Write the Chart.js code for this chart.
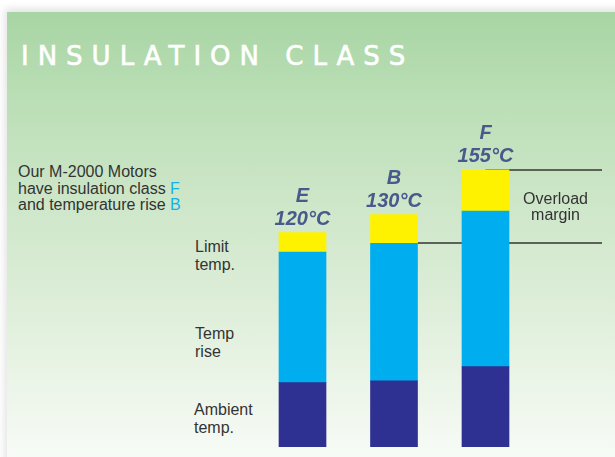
<!DOCTYPE html>
<html>
<head>
<meta charset="utf-8">
<script src="https://cdn.jsdelivr.net/npm/chart.js@4/dist/chart.umd.min.js"></script>
<style>
  html, body { margin: 0; padding: 0; background: #fff; }
  body { width: 615px; height: 457px; position: relative; overflow: hidden; font-family: "Liberation Sans", Arial, sans-serif; }
  .panel {
    position: absolute; left: 7px; top: 12px; width: 640px; height: 470px;
    background: linear-gradient(to bottom, #a8d5a4 0%, #bcdfb7 20%, #cde6c8 40%, #dcedd7 60%, #ecf5e9 80%, #fbfdfb 100%);
    box-shadow: -2px -3px 8px rgba(0,0,0,0.12);
  }
  .title {
    position: absolute; left: 21px; top: 41px; color: #fff;
    font-family: "DejaVu Sans", sans-serif; font-size: 26px; letter-spacing: 9px; white-space: nowrap;
    -webkit-text-stroke: 0.6px #fff;
  }
  .note { position: absolute; color: #333; font-size: 16px; line-height: 16.5px; white-space: nowrap; }
  .hl { color: #14b0e8; }
  #wrap { position: absolute; left: 0; top: 0; width: 615px; height: 457px; }
</style>
</head>
<body>
<div class="panel"></div>
<div class="title">INSULATION CLASS</div>
<div class="note" style="left:18px; top:164px;">Our M-2000 Motors<br>have insulation class <span class="hl">F</span><br>and temperature rise <span class="hl">B</span></div>
<div class="note" style="left:195px; top:238px; line-height:17.5px;">Limit<br>temp.</div>
<div class="note" style="left:195px; top:325px; line-height:17.5px;">Temp<br>rise</div>
<div class="note" style="left:194px; top:401px; line-height:17.5px;">Ambient<br>temp.</div>
<div id="wrap"><canvas id="c" width="615" height="457"></canvas></div>
<script>
// Insulation classes and their temperature build-up (°C)
const classes = ["E", "B", "F"];
const classLimits = ["120°C", "130°C", "155°C"];
const ambientTemp = [36, 37, 45];
const tempRise = [73, 77, 87];
const limitMargin = [11, 16, 23];

// Reference levels for the overload margin: rise of class B and limit of class F
const marginLow = ambientTemp[1] + tempRise[1];
const marginHigh = ambientTemp[2] + tempRise[2] + limitMargin[2];

const annotations = {
  id: "annotations",
  beforeDatasetsDraw(chart) {
    const ctx = chart.ctx;
    const y = chart.scales.y;
    const top = chart.getDatasetMeta(2);
    const lineEnd = 602;
    ctx.save();
    ctx.strokeStyle = "#5b6359";
    ctx.lineWidth = 2;
    const bB = top.data[1], bF = top.data[2];
    const yLow = Math.round(y.getPixelForValue(marginLow));
    const yHigh = Math.round(y.getPixelForValue(marginHigh));
    ctx.beginPath();
    ctx.moveTo(bB.x + bB.width / 2, yLow);
    ctx.lineTo(lineEnd, yLow);
    ctx.moveTo(bF.x, yHigh);
    ctx.lineTo(lineEnd, yHigh);
    ctx.stroke();
    ctx.fillStyle = "#333";
    ctx.font = "16px 'Liberation Sans', Arial, sans-serif";
    ctx.textAlign = "center";
    ctx.textBaseline = "alphabetic";
    const midX = (bF.x + bF.width / 2 + lineEnd) / 2;
    const midY = (yLow + yHigh) / 2;
    ctx.fillText("Overload", midX, midY - 3);
    ctx.fillText("margin", midX, midY + 13);
    ctx.restore();
  },
  afterDatasetsDraw(chart) {
    const ctx = chart.ctx;
    const top = chart.getDatasetMeta(2);
    ctx.save();
    ctx.fillStyle = "#485a8b";
    ctx.font = "italic bold 20px 'Liberation Sans', Arial, sans-serif";
    ctx.textAlign = "center";
    ctx.textBaseline = "alphabetic";
    top.data.forEach((bar, i) => {
      ctx.fillText(classLimits[i], bar.x, bar.y - 8);
      ctx.fillText(classes[i], bar.x, bar.y - 31);
    });
    ctx.restore();
  }
};

new Chart(document.getElementById("c"), {
  type: "bar",
  data: {
    labels: classes,
    datasets: [
      { label: "Ambient temp.", data: ambientTemp, backgroundColor: "#2e3192" },
      { label: "Temp rise", data: tempRise, backgroundColor: "#00aeef" },
      { label: "Limit temp.", data: limitMargin, backgroundColor: "#fff200" }
    ]
  },
  options: {
    responsive: false,
    animation: false,
    events: [],
    layout: { padding: { left: 256.75, right: 83.75, top: 161, bottom: 10 } },
    datasets: { bar: { barThickness: 47, borderWidth: 0 } },
    scales: {
      x: { stacked: true, display: false },
      y: { stacked: true, display: false, min: 0, max: 160 }
    },
    plugins: { legend: { display: false }, tooltip: { enabled: false }, title: { display: false } }
  },
  plugins: [annotations]
});
</script>
</body>
</html>
